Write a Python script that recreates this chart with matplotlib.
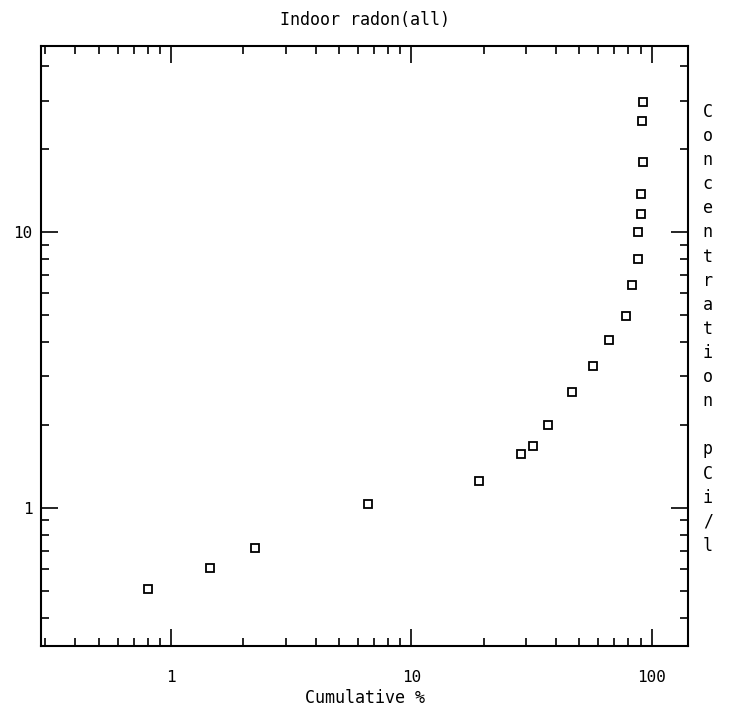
import matplotlib
matplotlib.use("Agg")
import matplotlib.pyplot as plt
from matplotlib.ticker import FixedLocator, NullFormatter, LogLocator

# cumulative percent vs indoor radon concentration (pCi/l)
cum_pct = [0.80, 1.455, 2.24, 6.58, 19.1, 28.7, 32.2, 37.2, 46.8, 57.3,
           66.8, 77.9, 82.5, 87.4, 88.2, 90.0, 90.0, 91.7, 90.8, 91.7]
conc = [0.508, 0.605, 0.715, 1.034, 1.254, 1.571, 1.681, 2.00, 2.64, 3.26,
        4.08, 4.95, 6.42, 7.98, 10.0, 11.63, 13.75, 17.97, 25.3, 29.7]

x_ticks = [1, 10, 100]
x_ticklabels = ["1", "10", "100"]
y_ticks = [1, 10]
y_ticklabels = ["1", "10"]

title = "Indoor radon(all)"
xlabel = "Cumulative %"
ylabel = "Concentration pCi/l"

plt.rcParams["font.family"] = ["DejaVu Sans Mono"]

fig = plt.figure(figsize=(7.29, 7.14), dpi=100)
ax = fig.add_axes([0.056, 0.095, 0.888, 0.841])

ax.plot(cum_pct, conc, linestyle="none", marker="s", markersize=6,
        markerfacecolor="white", markeredgecolor="black", markeredgewidth=1.3)

ax.set_xscale("log")
ax.set_yscale("log")
ax.set_xlim(0.287, 142)
ax.set_ylim(0.315, 47.5)

ax.xaxis.set_major_locator(FixedLocator(x_ticks))
ax.set_xticklabels(x_ticklabels)
ax.yaxis.set_major_locator(FixedLocator(y_ticks))
ax.set_yticklabels(y_ticklabels)
for axis in (ax.xaxis, ax.yaxis):
    axis.set_minor_locator(LogLocator(base=10, subs=range(2, 10), numticks=20))
    axis.set_minor_formatter(NullFormatter())

ax.tick_params(which="both", direction="in", top=True, right=True,
               width=1.2, labelsize=11.5)
ax.tick_params(axis="x", which="major", pad=17)
ax.tick_params(axis="y", which="major", pad=6)
ax.tick_params(which="major", length=12)
ax.tick_params(which="minor", length=6)
for s in ax.spines.values():
    s.set_linewidth(1.5)

ax.set_title(title, fontsize=12, pad=15)
ax.set_xlabel(xlabel, fontsize=12, labelpad=3)

# vertical, letter-by-letter axis label on the right
y0 = 1 - 112 / 714
step = 24.1 / 714
k = 0
for ch in ylabel:
    if ch != " ":
        fig.text(0.971, y0 - k * step, ch, ha="center", va="center", fontsize=12)
    k += 1

fig.savefig("out.png", dpi=100)
